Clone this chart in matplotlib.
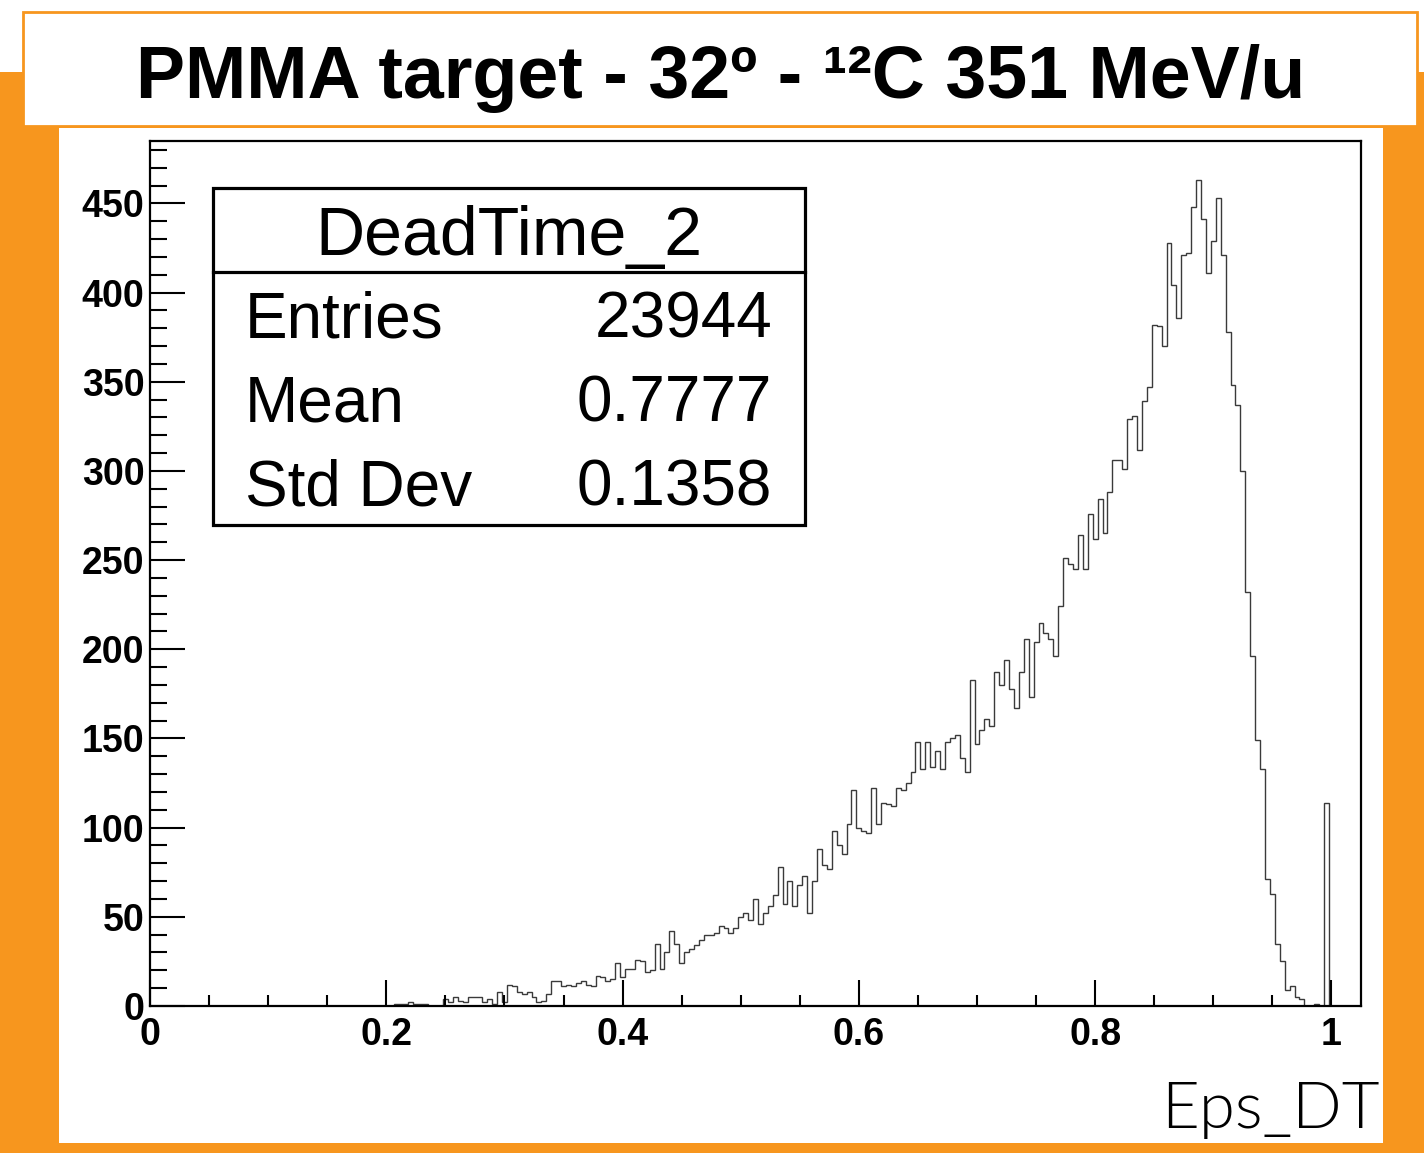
import numpy as np
import matplotlib
matplotlib.use("Agg")
import matplotlib.pyplot as plt
from matplotlib.patches import Rectangle
from matplotlib.lines import Line2D
from matplotlib.ticker import MultipleLocator, FixedLocator, FixedFormatter

W, H = 1424, 1153
ORANGE = "#F7961E"

TITLE = "PMMA target - 32º - ¹²C 351 MeV/u"
HIST_NAME = "DeadTime_2"
STAT_NAMES = ["Entries", "Mean", "Std Dev"]
STAT_VALUES = ["23944", "0.7777", "0.1358"]
X_LABEL = "Eps_DT"

# histogram binning (246 bins of width 1/240, grid offset by half a bin)
X_LO, X_HI, N_BINS = 0.0, 1.025, 246
BIN_W = (X_HI - X_LO) / N_BINS
BIN_OFFSET = 0.5 * BIN_W

# bin contents (bins 0..48 and 240..245 are empty)
counts_49_99 = [
    1, 1, 1, 2, 1, 1, 1, 0, 0, 0,
    4, 2, 5, 3, 2, 5, 5, 5, 2, 4,
    1, 8, 2, 12, 11, 8, 7, 8, 5, 2,
    3, 7, 14, 14, 11, 12, 11, 13, 14, 12,
    11, 17, 16, 14, 15, 24, 16, 21, 21, 26,
    25,
]
counts_100_149 = [
    19, 20, 35, 21, 30, 42, 35, 24, 30,
    32, 34, 37, 40, 40, 41, 45, 44, 41, 44,
    50, 52, 48, 60, 46, 52, 56, 62, 78, 57,
    70, 56, 68, 73, 52, 70, 88, 79, 77, 98,
    90, 85, 102, 121, 100, 98, 97, 122, 102, 114,
]
counts_150_199 = [
    113, 112, 122, 121, 125, 131, 148, 133, 148, 134,
    143, 133, 148, 150, 152, 139, 131, 183, 147, 155,
    161, 157, 187, 180, 194, 178, 167, 187, 206, 173,
    204, 215, 209, 206, 196, 224, 251, 248, 245, 264,
    245, 276, 262, 284, 265, 288, 306, 306, 301, 329,
]
counts_200_239 = [
    331, 312, 339, 347, 382, 381, 370, 428, 404, 386,
    421, 422, 448, 463, 441, 411, 429, 453, 421, 378,
    348, 337, 300, 232, 196, 149, 133, 71, 63, 35,
    25, 9, 11, 5, 4, 0, 0, 1, 0, 114,
]

counts = np.zeros(N_BINS)
filled = counts_49_99 + counts_100_149 + counts_150_199 + counts_200_239
counts[49:49 + len(filled)] = filled
edges = np.linspace(X_LO, X_HI, N_BINS + 1) + BIN_OFFSET

X_MAJOR = [0, 0.2, 0.4, 0.6, 0.8, 1.0]
X_MAJOR_LABELS = ["0", "0.2", "0.4", "0.6", "0.8", "1"]
Y_MAJOR = [0, 50, 100, 150, 200, 250, 300, 350, 400, 450]


def fx(px):
    return px / W


def fy(py):
    return 1 - py / H


plt.rcParams["font.family"] = ["Liberation Sans", "DejaVu Sans"]

fig = plt.figure(figsize=(W / 100, H / 100), dpi=100)
fig.patch.set_facecolor("white")

# orange slide background, white panel, title box (all behind the axes)
fig.patches.append(Rectangle((0, 0), 1, fy(72), transform=fig.transFigure,
                             facecolor=ORANGE, edgecolor="none", zorder=-3))
fig.patches.append(Rectangle((fx(59), fy(1143)), fx(1383 - 59), (1143 - 128) / H,
                             transform=fig.transFigure, facecolor="white",
                             edgecolor="none", zorder=-2))
fig.patches.append(Rectangle((fx(23), fy(126)), fx(1417 - 23), (126 - 12) / H,
                             transform=fig.transFigure, facecolor="white",
                             edgecolor=ORANGE, linewidth=2, zorder=-2))
fig.text(fx(721), fy(98), TITLE, ha="center", va="baseline",
         fontsize=53, fontweight="bold", color="black", zorder=3)

ax = fig.add_axes([fx(150), fy(1006), fx(1361 - 150), (1006 - 141) / H])
ax.set_zorder(1)
ax.set_facecolor("white")
ax.stairs(counts, edges, color="#3a3a3a", linewidth=1.0)

ax.set_xlim(X_LO, X_HI)
ax.set_ylim(0, 485)
ax.xaxis.set_major_locator(FixedLocator(X_MAJOR))
ax.xaxis.set_major_formatter(FixedFormatter(X_MAJOR_LABELS))
ax.xaxis.set_minor_locator(MultipleLocator(0.05))
ax.yaxis.set_major_locator(FixedLocator(Y_MAJOR))
ax.yaxis.set_minor_locator(MultipleLocator(10))

ax.tick_params(axis="x", which="major", direction="in", length=19, width=1.5,
               labelsize=27, pad=8)
ax.tick_params(axis="x", which="minor", direction="in", length=8, width=1.5)
ax.tick_params(axis="y", which="major", direction="in", length=25, width=1.5,
               labelsize=27, pad=4)
ax.tick_params(axis="y", which="minor", direction="in", length=12, width=1.5)
for lab in ax.get_xticklabels() + ax.get_yticklabels():
    lab.set_fontweight("bold")
for sp in ax.spines.values():
    sp.set_linewidth(1.6)
    sp.set_color("black")

# statistics box
fig.patches.append(Rectangle((fx(213), fy(525)), fx(805 - 213), (525 - 188) / H,
                             transform=fig.transFigure, facecolor="white",
                             edgecolor="black", linewidth=2.3, zorder=5))
fig.lines.append(Line2D([fx(213), fx(805)], [fy(272), fy(272)],
                        transform=fig.transFigure, color="black",
                        linewidth=2.3, zorder=6))
fig.text(fx(509), fy(255), HIST_NAME, ha="center", va="baseline",
         fontsize=49, zorder=7)
for i, (name, val) in enumerate(zip(STAT_NAMES, STAT_VALUES)):
    base = 338 + 84 * i
    fig.text(fx(245), fy(base), name, ha="left", va="baseline",
             fontsize=46, zorder=7)
    fig.text(fx(772), fy(base), val, ha="right", va="baseline",
             fontsize=46, zorder=7)

fig.text(fx(1380), fy(1128), X_LABEL, ha="right", va="baseline",
         fontsize=47, fontweight=300, family=["Lato", "DejaVu Sans"],
         zorder=7)

fig.savefig("out.png", dpi=100)
